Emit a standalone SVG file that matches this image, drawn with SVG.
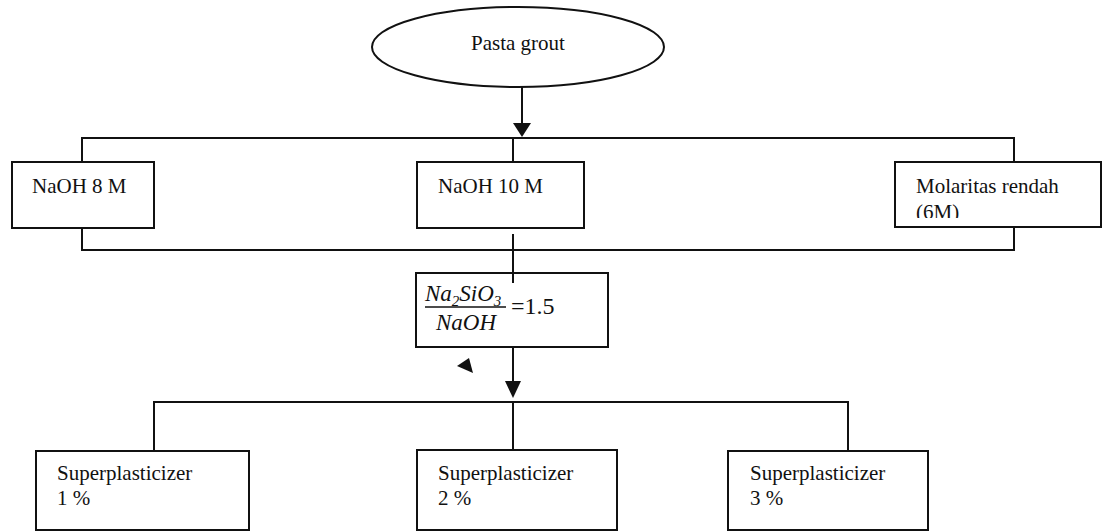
<svg xmlns="http://www.w3.org/2000/svg" width="1102" height="532" viewBox="0 0 1102 532">
<style>
.box{fill:#fff;stroke:#111;stroke-width:2}
.ln{fill:none;stroke:#111;stroke-width:2}
.t{font-family:"Liberation Serif","Times New Roman",serif;font-size:21px;fill:#111}
.it{font-style:italic}
.ah{fill:#111}
</style>
<defs>
<clipPath id="clipMol"><rect x="895" y="160" width="207" height="58"/></clipPath>
</defs>
<rect width="1102" height="532" fill="#fff"/>
<g id="pasta-grout">
<ellipse class="box" cx="518" cy="47" rx="146" ry="40"/>
<text class="t" x="518" y="50" text-anchor="middle">Pasta grout</text>
</g>
<g id="naoh-8m">
<rect class="box" x="12" y="162" width="142" height="66"/>
<text class="t" x="32" y="193">NaOH 8 M</text>
</g>
<g id="naoh-10m">
<rect class="box" x="417" y="162" width="167" height="66"/>
<text class="t" x="438" y="193">NaOH 10 M</text>
</g>
<g id="molaritas-rendah">
<rect class="box" x="895" y="162" width="206" height="65"/>
<text class="t" x="916" y="193">Molaritas rendah</text>
<text class="t" x="916" y="219" clip-path="url(#clipMol)">(6M)</text>
</g>
<g id="ratio">
<rect class="box" x="416" y="273" width="192" height="74"/>
<text class="t it" x="425" y="301" style="font-size:23px">Na<tspan dy="5" style="font-size:15px">2</tspan><tspan dy="-5">SiO</tspan><tspan dy="5" style="font-size:15px">3</tspan></text>
<line x1="425" y1="307" x2="506" y2="307" stroke="#111" stroke-width="1.5"/>
<text class="t it" x="466" y="330" text-anchor="middle" style="font-size:23px">NaOH</text>
<text class="t" x="511" y="314" style="font-size:24px">=1.5</text>
</g>
<g id="sp-1">
<rect class="box" x="36" y="451" width="213" height="79"/>
<text class="t" x="57" y="480">Superplasticizer</text>
<text class="t" x="57" y="505">1 %</text>
</g>
<g id="sp-2">
<rect class="box" x="417" y="450" width="200" height="80"/>
<text class="t" x="438" y="480">Superplasticizer</text>
<text class="t" x="438" y="505">2 %</text>
</g>
<g id="sp-3">
<rect class="box" x="728" y="451" width="200" height="79"/>
<text class="t" x="750" y="480">Superplasticizer</text>
<text class="t" x="750" y="505">3 %</text>
</g>
<g id="connectors">
<line class="ln" x1="522" y1="87" x2="522" y2="126"/>
<polygon class="ah" points="513,123 531,123 522,137"/>
<polyline class="ln" points="82,162 82,138 1014,138 1014,162"/>
<line class="ln" x1="513" y1="138" x2="513" y2="162"/>
<polyline class="ln" points="82,228 82,250 1014,250 1014,227"/>
<line class="ln" x1="513" y1="234" x2="513" y2="283"/>
<line class="ln" x1="513" y1="347" x2="513" y2="384"/>
<polygon class="ah" points="505,381 521,381 513,398"/>
<polygon class="ah" points="457,366 469,358 473,373"/>
<polyline class="ln" points="154,451 154,402 848,402 848,451"/>
<line class="ln" x1="513" y1="402" x2="513" y2="450"/>
</g>
</svg>
